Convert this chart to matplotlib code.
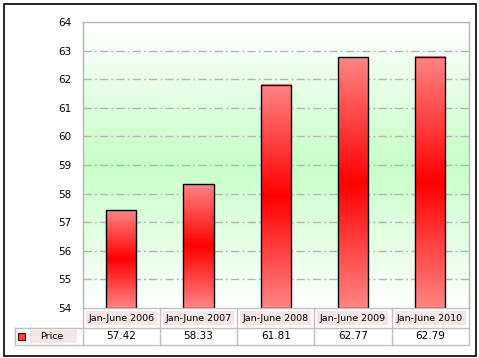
import numpy as np
import matplotlib
matplotlib.use("Agg")
import matplotlib.pyplot as plt
from matplotlib.patches import Rectangle
from matplotlib.lines import Line2D

# ── Data ────────────────────────────────────────────────
categories = ["Jan-June 2006", "Jan-June 2007", "Jan-June 2008",
              "Jan-June 2009", "Jan-June 2010"]
prices = [57.42, 58.33, 61.81, 62.77, 62.79]
value_labels = ["57.42", "58.33", "61.81", "62.77", "62.79"]
series_name = "Price"
y_ticks = list(range(54, 65))

# ── Layout (pixel helpers) ──────────────────────────────
W, H = 479, 358
def fx(x): return x / W
def fy(y): return 1 - y / H

PL, PR, PT, PB = 82.7, 468.7, 22, 308
ROW1, ROW2 = 327.5, 345
TL = 15

fig = plt.figure(figsize=(W / 100, H / 100), dpi=100)
fig.patch.set_facecolor("white")

# outer black frame
fig.add_artist(Rectangle((fx(3.5), fy(355.5)), (472.5) / W, (352) / H,
                         transform=fig.transFigure, fill=False,
                         edgecolor="black", linewidth=1.2, joinstyle="miter"))

ax = fig.add_axes([fx(PL), fy(PB), (PR - PL) / W, (PB - PT) / H])
ax.set_xlim(-0.5, len(categories) - 0.5)
ax.set_ylim(y_ticks[0], y_ticks[-1])

# background gradient white -> green -> white
t = np.linspace(0, 1, 256)
f = 1 - np.abs(t - 0.5) * 2
green = np.array([0.78, 1.0, 0.78])
bg = np.ones((256, 1, 3)) * (1 - f[:, None, None]) + green * f[:, None, None]
ax.imshow(bg, extent=[-0.5, len(categories) - 0.5, y_ticks[0], y_ticks[-1]],
          aspect="auto", origin="lower", zorder=0, interpolation="bilinear")

# grid lines
for yv in y_ticks[1:-1]:
    ax.axhline(yv, color="#b4b4b4", linewidth=1, dashes=(6, 2.2, 1.4, 2.2), zorder=1)

# bars with vertical gradient pink -> red -> pink
bar_w = 0.39
pink = np.array([1.0, 0.52, 0.52])
red = np.array([1.0, 0.0, 0.0])
g = np.abs(t - 0.5) * 2
bar_img = (red + (pink - red) * g[:, None])[:, None, :]
for i, v in enumerate(prices):
    ax.imshow(bar_img, extent=[i - bar_w / 2, i + bar_w / 2, y_ticks[0], v],
              aspect="auto", origin="lower", zorder=2, interpolation="bilinear")
    ax.add_patch(Rectangle((i - bar_w / 2, y_ticks[0]), bar_w, v - y_ticks[0],
                           fill=False, edgecolor="black", linewidth=1.0,
                           joinstyle="miter", zorder=3))

ax.set_xlim(-0.5, len(categories) - 0.5)
ax.set_ylim(y_ticks[0], y_ticks[-1])
ax.set_yticks(y_ticks)
ax.set_xticks([])
ax.tick_params(axis="y", length=0, pad=8, labelsize=7.5)
for s in ["top", "left", "right"]:
    ax.spines[s].set_color("#b4b4b4")
    ax.spines[s].set_linewidth(1)
ax.spines["bottom"].set_visible(False)

# ── Data table below the plot ───────────────────────────
tax = fig.add_axes([fx(TL), fy(ROW2), (PR - TL) / W, (ROW2 - PB) / H])
tax.set_xlim(TL, PR)
tax.set_ylim(ROW2, PB)
tax.axis("off")
lc = "#c0c0c0"
col_w = (PR - PL) / len(categories)

def line(x0, y0, x1, y1):
    tax.add_line(Line2D([x0, x1], [y0, y1], color=lc, linewidth=1, clip_on=False))

line(PL, PB, PR, PB)
line(TL, ROW1, PR, ROW1)
line(TL, ROW2, PR, ROW2)
line(TL, ROW1, TL, ROW2)
for k in range(len(categories) + 1):
    line(PL + k * col_w, PB, PL + k * col_w, ROW2)

cell_bg = dict(boxstyle="square,pad=0.25", facecolor="#f5e6e6", edgecolor="none")
for k, (cat, val) in enumerate(zip(categories, value_labels)):
    cx = PL + (k + 0.5) * col_w
    tax.text(cx, (PB + ROW1) / 2 + 0.5, cat, ha="center", va="center",
             fontsize=6.8, bbox=cell_bg, clip_on=False)
    tax.text(cx, (ROW1 + ROW2) / 2, val, ha="center", va="center",
             fontsize=7.5, clip_on=False)

# legend cell
tax.add_patch(Rectangle((30, ROW1 + 2.5), 47, ROW2 - ROW1 - 5,
                        facecolor="#f5e6e6", edgecolor="none", clip_on=False))
tax.add_patch(Rectangle((17.5, 332.5), 7, 7, facecolor="#ff4040",
                        edgecolor="#600000", linewidth=0.8, clip_on=False))
tax.text(52, (ROW1 + ROW2) / 2, series_name, ha="center", va="center",
         fontsize=6.8, clip_on=False)

fig.savefig("out.png", dpi=100)
